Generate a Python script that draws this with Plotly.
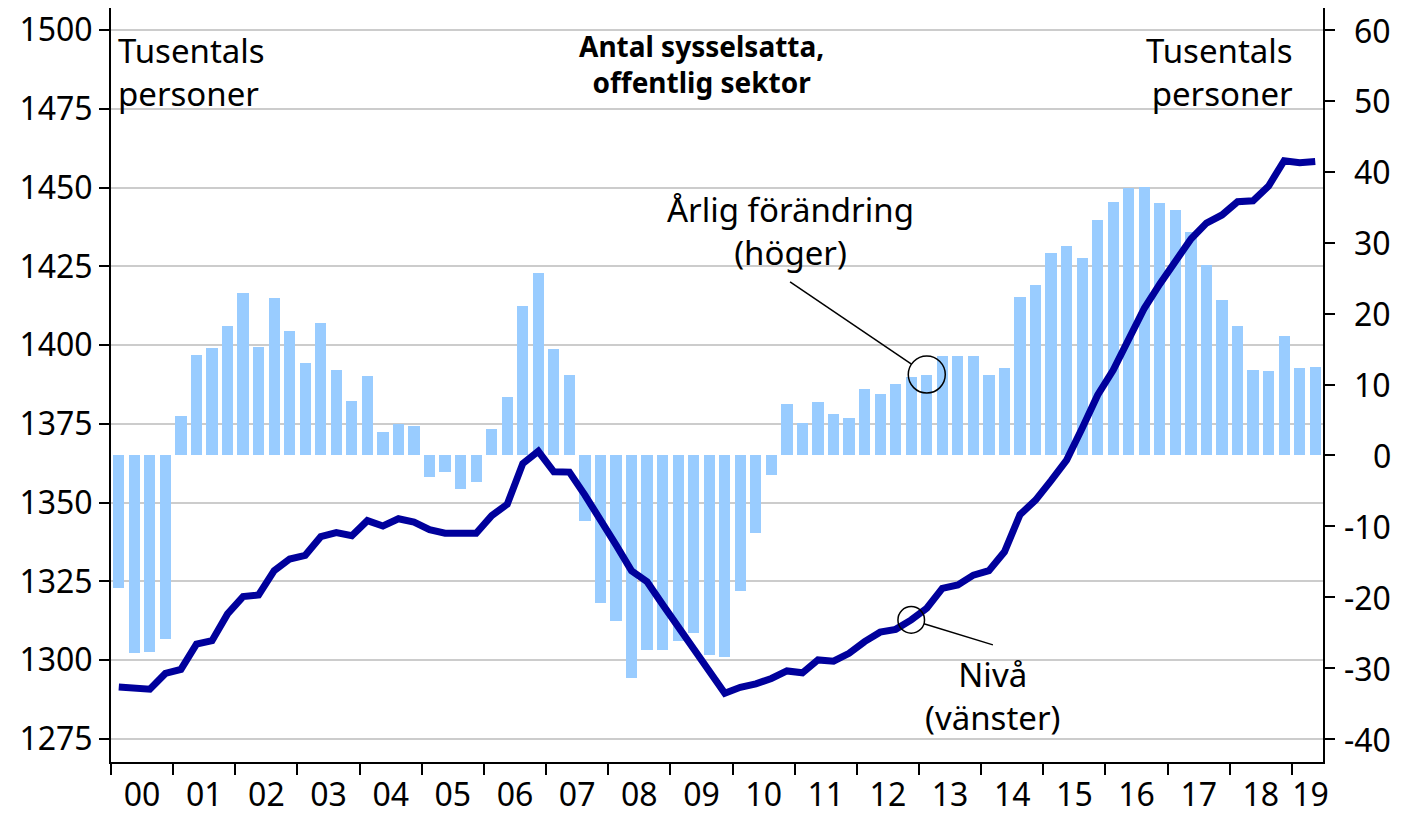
import plotly.graph_objects as go

# ---- Data (quarterly, 2000Q1 - 2019Q2) ----
years = list(range(2000, 2020))
year_labels = ["00", "01", "02", "03", "04", "05", "06", "07", "08", "09",
               "10", "11", "12", "13", "14", "15", "16", "17", "18", "19"]
quarters = [f"{y}Q{q}" for y in years for q in range(1, 5)][:78]

# Annual change, thousands of persons (right axis)
annual_change = [
    -18.7, -27.8, -27.7, -25.9,   # 2000
    5.6, 14.1, 15.1, 18.3,        # 2001
    22.9, 15.3, 22.2, 17.5,       # 2002
    13.0, 18.7, 12.0, 7.7,        # 2003
    11.2, 3.3, 4.5, 4.1,          # 2004
    -3.1, -2.3, -4.8, -3.7,       # 2005
    3.7, 8.2, 21.1, 25.7,         # 2006
    15.0, 11.3, -9.2, -20.8,      # 2007
    -23.3, -31.4, -27.5, -27.4,   # 2008
    -26.2, -25.1, -28.2, -28.5,   # 2009
    -19.1, -10.9, -2.7, 7.2,      # 2010
    4.6, 7.5, 5.8, 5.3,           # 2011
    9.4, 8.7, 10.1, 11.0,         # 2012
    11.4, 14.0, 14.0, 14.0,       # 2013
    11.4, 12.3, 22.4, 24.0,       # 2014
    28.6, 29.5, 27.8, 33.2,       # 2015
    35.8, 37.7, 37.9, 35.6,       # 2016
    34.6, 31.5, 26.8, 21.9,       # 2017
    18.3, 12.0, 11.9, 16.8,       # 2018
    12.3, 12.5,                   # 2019
]

# Level, thousands of persons (left axis)
level = [
    1291.5, 1291.1, 1290.8, 1295.8,   # 2000
    1297.1, 1305.1, 1306.2, 1314.7,   # 2001
    1320.2, 1320.7, 1328.4, 1332.1,   # 2002
    1333.3, 1339.2, 1340.5, 1339.5,   # 2003
    1344.3, 1342.6, 1344.9, 1343.8,   # 2004
    1341.4, 1340.3, 1340.3, 1340.3,   # 2005
    1345.9, 1349.5, 1362.4, 1366.3,   # 2006
    1359.8, 1359.7, 1352.4, 1345.0,   # 2007
    1336.6, 1328.4, 1324.9, 1317.7,   # 2008
    1310.6, 1303.8, 1296.7, 1289.5,   # 2009
    1291.4, 1292.5, 1294.2, 1296.6,   # 2010
    1296.0, 1300.1, 1299.7, 1302.2,   # 2011
    1305.9, 1308.9, 1309.8, 1312.8,   # 2012
    1316.5, 1322.8, 1323.9, 1327.0,   # 2013
    1328.4, 1334.4, 1346.2, 1350.8,   # 2014
    1357.0, 1363.5, 1373.6, 1384.2,   # 2015
    1392.1, 1401.8, 1411.7, 1419.4,   # 2016
    1427.0, 1433.7, 1438.7, 1441.3,   # 2017
    1445.5, 1445.8, 1450.5, 1458.5,   # 2018
    1457.9, 1458.3,                   # 2019
]

left_ticks = [1275, 1300, 1325, 1350, 1375, 1400, 1425, 1450, 1475, 1500]
right_ticks = [-40, -30, -20, -10, 0, 10, 20, 30, 40, 50, 60]
right_tick_text = ["-40", "-30", "-20", "-10", "0", "10", "20", "30", "40", "50", "60"]

x = list(range(len(quarters)))

FONT = "Noto Sans"
BAR_COLOR = "#99CCFF"
LINE_COLOR = "#00009C"
FS = 33
TICK_FS = 32

fig = go.Figure()
fig.add_trace(go.Bar(
    x=x, y=annual_change, yaxis="y", width=0.72,
    marker=dict(color=BAR_COLOR, line=dict(width=0)),
    name="Årlig förändring (höger)", hovertext=quarters,
))
fig.add_trace(go.Scatter(
    x=x, y=level, yaxis="y2", mode="lines",
    line=dict(color=LINE_COLOR, width=7),
    name="Nivå (vänster)", hovertext=quarters,
))

# year label positions (centre of each year; last, partial year shifted to fit)
label_pos = [4 * i + 1.5 for i in range(19)] + [76.7]
boundary_pos = [4 * i - 0.5 for i in range(20)]

pl = 709 / 225   # px per unit, left axis
pr = 709 / 100   # px per unit, right axis

fig.update_layout(
    width=1389, height=809,
    margin=dict(l=103, r=74, t=0, b=55, pad=0),
    paper_bgcolor="white", plot_bgcolor="white",
    showlegend=False, bargap=0,
    font=dict(family=FONT, color="black", size=FS),
    xaxis=dict(
        range=[-0.5, 77.5], tickvals=label_pos, ticktext=year_labels,
        ticks="outside", ticklen=4, tickcolor="rgba(0,0,0,0)",
        showline=True, linecolor="black", linewidth=2,
        showgrid=False, zeroline=False, automargin=False,
        tickfont=dict(size=TICK_FS), ticklabeloverflow="allow",
        minor=dict(tickvals=boundary_pos, ticks="outside", ticklen=11,
                   tickcolor="black", tickwidth=2, showgrid=False),
    ),
    yaxis=dict(
        side="right", range=[-40 - 23 / pr, 60 + 22 / pr], tickvals=right_ticks,
        showticklabels=False,
        showgrid=False, zeroline=False, showline=True, linecolor="black",
        linewidth=2, ticks="outside", ticklen=10, tickcolor="black",
        tickwidth=1.5, automargin=False,
    ),
    yaxis2=dict(
        overlaying="y", side="left", range=[1275 - 23 / pl, 1500 + 22 / pl],
        tickvals=left_ticks, showgrid=True, gridcolor="#cccccc", gridwidth=1.5,
        zeroline=False, showline=True, linecolor="black", linewidth=2,
        ticks="outside", ticklen=10, tickcolor="black", tickwidth=1.5,
        automargin=False, tickfont=dict(size=TICK_FS), ticklabeloverflow="allow",
    ),
)

# page-pixel -> paper helpers (plot area on page: x 111..1323, y 8..762)
X0, X1, Y0, Y1 = 111.0, 1323.0, 8.0, 762.0


def px(xp):
    return (xp - X0) / (X1 - X0)


def py(yp):
    return (Y1 - yp) / (Y1 - Y0)


def txt(text, xp, yp, xanchor="center", align="center", size=FS, bold=False):
    return dict(text=f"<b>{text}</b>" if bold else text, x=px(xp), y=py(yp),
                xref="paper", yref="paper", xanchor=xanchor, yanchor="middle",
                align=align, showarrow=False, font=dict(size=size))


annotations = [
    txt("Tusentals<br>personer", 116, 72, "left", "left"),
    txt("Tusentals<br>personer", 1295, 72, "right", "right"),
    txt("Antal sysselsatta,<br>offentlig sektor", 701, 64, size=28, bold=True),
    txt("Årlig förändring<br>(höger)", 790, 231),
    txt("Nivå<br>(vänster)", 992, 696),
]
# right-axis tick labels (right-aligned, as in the reference)
for v, t in zip(right_ticks, right_tick_text):
    annotations.append(dict(text=t, x=px(1393), y=v, xref="paper", yref="y",
                            xanchor="right", yanchor="middle", showarrow=False,
                            font=dict(size=TICK_FS)))
fig.update_layout(annotations=annotations)

i_bar = 52   # 2013Q1
i_lvl = 51   # 2012Q4
shapes = [
    dict(type="circle", xref="x", yref="y", xsizemode="pixel", ysizemode="pixel",
         xanchor=i_bar, yanchor=annual_change[i_bar], x0=-18.5, x1=18.5, y0=-18.5, y1=18.5,
         line=dict(color="black", width=1.5)),
    dict(type="line", xref="x", yref="y", xsizemode="pixel", ysizemode="pixel",
         xanchor=i_bar, yanchor=annual_change[i_bar], x0=-136.7, y0=92.7, x1=-15.3, y1=10.4,
         line=dict(color="black", width=1.5)),
    dict(type="circle", xref="x", yref="y2", xsizemode="pixel", ysizemode="pixel",
         xanchor=i_lvl, yanchor=level[i_lvl], x0=-13.3, x1=13.3, y0=-13.3, y1=13.3,
         line=dict(color="black", width=1.5)),
    dict(type="line", xref="x", yref="y2", xsizemode="pixel", ysizemode="pixel",
         xanchor=i_lvl, yanchor=level[i_lvl], x0=12.7, y0=-3.9, x1=81.7, y1=-25,
         line=dict(color="black", width=1.5)),
]
fig.update_layout(shapes=shapes)

fig.write_html("out.html")
